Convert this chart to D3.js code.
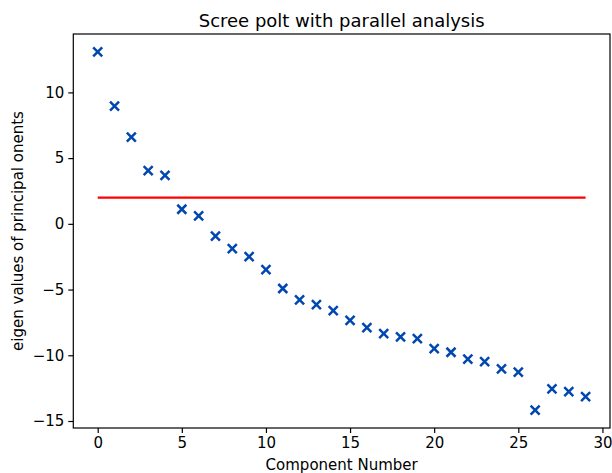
<!DOCTYPE html>
<html>
<head>
<meta charset="utf-8">
<script src="https://cdn.jsdelivr.net/npm/d3@7"></script>
<style>
  body { margin: 0; background: #fff; }
  svg { display: block; font-family: "DejaVu Sans", sans-serif; }
</style>
</head>
<body>
<div id="scree"></div>
<script>
// eigenvalues of each principal component, in order
const components = d3.range(30);
const eigenValues = [
    13.08, 8.95, 6.59, 4.05, 3.69, 1.11, 0.61, -0.93, -1.89, -2.5,
    -3.48, -4.92, -5.78, -6.14, -6.61, -7.35, -7.9, -8.36, -8.6, -8.73,
    -9.49, -9.77, -10.3, -10.48, -11.03, -11.29, -14.17, -12.55, -12.77, -13.15
];
// parallel analysis threshold
const thresholdValue = 2.0;
const xTicks = [0, 5, 10, 15, 20, 25, 30];
const yTicks = [-15, -10, -5, 0, 5, 10];

const width = 612, height = 473;
const margin = { top: 34, right: 2, bottom: 45, left: 73.3 };

const svg = d3.select('#scree')
    .append('svg')
    .attr('width', width)
    .attr('height', height);

// matplotlib-style 5% padding around the data
const xMin = 0, xMax = 29;
const xPad = (xMax - xMin) * 0.05;
const yMin = d3.min(eigenValues), yMax = d3.max(eigenValues);
const yPad = (yMax - yMin) * 0.05;

const xScale = d3.scaleLinear()
    .domain([xMin - xPad, xMax + xPad])
    .range([margin.left, width - margin.right]);

const yScale = d3.scaleLinear()
    .domain([yMin - yPad, yMax + yPad])
    .range([height - margin.bottom, margin.top]);

// axes
const xAxis = svg.append('g')
    .attr('transform', `translate(0,${height - margin.bottom})`)
    .call(d3.axisBottom(xScale).tickValues(xTicks).tickSize(5).tickPadding(4)
        .tickFormat(d3.format('d')));

const yAxis = svg.append('g')
    .attr('transform', `translate(${margin.left},0)`)
    .call(d3.axisLeft(yScale).tickValues(yTicks).tickSize(5).tickPadding(4)
        .tickFormat(d => d < 0 ? '\u2212' + Math.abs(d) : d));

[xAxis, yAxis].forEach(g => {
    g.select('.domain').remove();
    g.selectAll('line').attr('stroke', '#000').attr('stroke-width', 1.2);
    g.selectAll('text')
        .attr('fill', '#000')
        .style('font-size', '15px')
        .style('font-family', '"DejaVu Sans", sans-serif');
});

// frame
svg.append('rect')
    .attr('x', margin.left)
    .attr('y', margin.top)
    .attr('width', width - margin.right - margin.left)
    .attr('height', height - margin.bottom - margin.top)
    .attr('fill', 'none')
    .attr('stroke', '#000')
    .attr('stroke-width', 1.2);

// parallel analysis line
svg.append('line')
    .attr('x1', xScale(xMin))
    .attr('x2', xScale(xMax))
    .attr('y1', yScale(thresholdValue))
    .attr('y2', yScale(thresholdValue))
    .attr('stroke', '#ff0000')
    .attr('stroke-width', 2.2);

// eigenvalue markers
const s = 4.5;
svg.append('g')
    .selectAll('path')
    .data(components)
    .enter()
    .append('path')
    .attr('d', i => {
        const cx = xScale(i), cy = yScale(eigenValues[i]);
        return `M${cx - s},${cy - s}L${cx + s},${cy + s}M${cx - s},${cy + s}L${cx + s},${cy - s}`;
    })
    .attr('stroke', '#0047b0')
    .attr('stroke-width', 2.5)
    .attr('fill', 'none');

// title and labels
svg.append('text')
    .attr('x', (margin.left + width - margin.right) / 2)
    .attr('y', 27)
    .attr('text-anchor', 'middle')
    .style('font-size', '18px')
    .text('Scree polt with parallel analysis');

svg.append('text')
    .attr('x', (margin.left + width - margin.right) / 2)
    .attr('y', 470)
    .attr('text-anchor', 'middle')
    .style('font-size', '15px')
    .text('Component Number');

svg.append('text')
    .attr('transform', `translate(23,${(margin.top + height - margin.bottom) / 2}) rotate(-90)`)
    .attr('text-anchor', 'middle')
    .style('font-size', '15px')
    .text('eigen values of principal onents');
</script>
</body>
</html>
